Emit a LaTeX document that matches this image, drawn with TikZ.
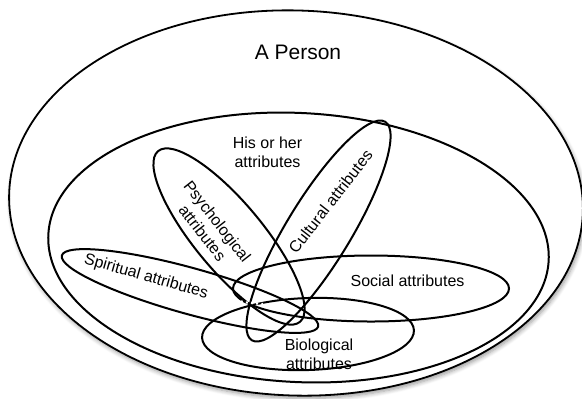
\documentclass[tikz,border=0pt]{standalone}
\usepackage{fontspec}
\setmainfont{Liberation Sans}
\usetikzlibrary{shapes.geometric,shadows.blur}
\begin{document}
\begin{tikzpicture}[x=0.5pt,y=-0.5pt,
  set/.style={draw, ellipse, line width=1pt, inner sep=0pt},
  lbl/.style={font=\fontsize{8}{9.5}\selectfont, align=center, inner sep=0pt},
  big/.style={font=\fontsize{10.5}{12}\selectfont, inner sep=0pt},
]
\useasboundingbox (0,0) rectangle (582,398);

% the whole person, with a soft shadow
\node[set, line width=0.9pt, fill=white, minimum width=287pt, minimum height=192.5pt, rotate=-2,
  blur shadow={shadow xshift=0.8pt, shadow yshift=-1.4pt, shadow blur steps=6, shadow opacity=40}]
  (person) at (296,203) {};
\node[big] (tperson) at (298,52) {A Person};

% his or her attributes
\node[set, minimum width=250.5pt, minimum height=134.5pt, rotate=-3] (attr) at (298.5,247.5) {};
\node[lbl] (tattr) at (267.5,152) {His or her\\attributes};

% the five groups of attributes
\node[set, minimum width=138pt, minimum height=33pt] (social) at (371,288.5) {};
\node[set, minimum width=106pt, minimum height=36pt, rotate=2] (bio) at (308,334) {};
\node[set, minimum width=133pt, minimum height=23pt, rotate=-15.5] (spirit) at (190,291) {};
\node[set, minimum width=111pt, minimum height=34pt, rotate=-50.3] (psych) at (229,236.5) {};
\node[set, minimum width=128pt, minimum height=32pt, rotate=58.6] (culture) at (318.5,231) {};

% white dotted trace across the crossing lines
\coordinate (ws) at (217,291);
\coordinate (we) at (263,304);
\draw[white, line width=1.1pt, dash pattern=on 1pt off 1.6pt] (ws) .. controls (238,302) .. (we);

\node[lbl] (tsocial) at (407.5,281) {Social attributes};
\node[lbl] (tbio) at (319,354) {Biological\\attributes};
\node[lbl, rotate=-16] (tspirit) at (146,277) {Spiritual attributes};
\node[lbl, rotate=-52] (tpsych) at (210,227) {Psychological\\attributes};
\node[lbl, rotate=52] (tculture) at (330.5,201.5) {Cultural attributes};
\end{tikzpicture}
\end{document}
